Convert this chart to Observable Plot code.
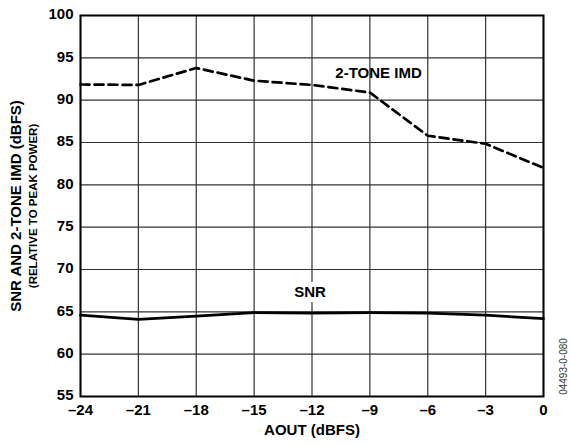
<!DOCTYPE html>
<html><head><meta charset="utf-8">
<script src="https://cdn.jsdelivr.net/npm/d3@7"></script>
<script src="https://cdn.jsdelivr.net/npm/@observablehq/plot@0.6"></script>
<style>body{margin:0;background:#fff}</style>
</head><body><div id="chart"></div>
<script>
const aout = [-24, -21, -18, -15, -12, -9, -6, -3, 0];
const imd = [91.85, 91.8, 93.8, 92.3, 91.8, 90.9, 85.8, 84.85, 82.0];
const snr = [64.6, 64.1, 64.5, 64.9, 64.85, 64.9, 64.85, 64.6, 64.2];
const xTicks = [-24, -21, -18, -15, -12, -9, -6, -3, 0];
const yTicks = [55, 60, 65, 70, 75, 80, 85, 90, 95, 100];
const seriesLabels = [
  {x: -8.55, y: 93.15, text: "2-TONE IMD"},
  {x: -12.1, y: 67.3, text: "SNR"}
];
const yTitle = "SNR AND 2-TONE IMD (dBFS)";
const ySubtitle = "(RELATIVE TO PEAK POWER)";
const xTitle = "AOUT (dBFS)";
const figId = "04493-0-080";

const imdData = aout.map((x, i) => ({x, y: imd[i]}));
const snrData = aout.map((x, i) => ({x, y: snr[i]}));
const fmt = d => d < 0 ? "\u2013" + (-d) : String(d);

const chart = Plot.plot({
  width: 571,
  height: 444,
  marginLeft: 80,
  marginTop: 15,
  marginRight: 28,
  marginBottom: 48,
  style: {fontFamily: "'Liberation Sans', Arial, sans-serif", background: "#fff", overflow: "visible"},
  x: {domain: [-24, 0]},
  y: {domain: [55, 100]},
  marks: [
    Plot.gridX(xTicks, {stroke: "#333", strokeOpacity: 1, strokeWidth: 1.2}),
    Plot.gridY(yTicks, {stroke: "#333", strokeOpacity: 1, strokeWidth: 1.2}),
    Plot.text([seriesLabels[1]], {x: "x", y: "y", text: "text", fill: "none", stroke: "white", strokeWidth: 10, fontSize: 15, fontWeight: "bold"}),
    Plot.line(imdData, {x: "x", y: "y", stroke: "black", strokeWidth: 2.7, strokeDasharray: "9,5"}),
    Plot.line(snrData, {x: "x", y: "y", stroke: "black", strokeWidth: 2.7}),
    Plot.frame({stroke: "black", strokeWidth: 2}),
    Plot.axisX(xTicks, {tickSize: 0, tickPadding: 8, tickFormat: fmt, fontSize: 15, fontWeight: "bold", fill: "black", label: null}),
    Plot.axisY(yTicks, {tickSize: 0, tickPadding: 7, tickFormat: fmt, fontSize: 15, fontWeight: "bold", fill: "black", label: null, dy: -1}),
    Plot.text(seriesLabels, {x: "x", y: "y", text: "text", fontSize: 15, fontWeight: "bold", fill: "black"}),
    Plot.text([yTitle], {frameAnchor: "left", dx: -64, rotate: -90, textAnchor: "middle", text: d => d, fontSize: 15, fontWeight: "bold", fill: "black"}),
    Plot.text([ySubtitle], {frameAnchor: "left", dx: -47, rotate: -90, textAnchor: "middle", text: d => d, fontSize: 11.5, fontWeight: "bold", fill: "black"}),
    Plot.text([xTitle], {frameAnchor: "bottom", dy: 38, text: d => d, fontSize: 15, fontWeight: "bold", fill: "black"}),
    Plot.text([figId], {frameAnchor: "bottom-right", dx: 23, dy: -30, rotate: -90, textAnchor: "middle", text: d => d, fontSize: 10, fill: "#333"})
  ]
});
document.getElementById("chart").appendChild(chart);
</script>
</body></html>
